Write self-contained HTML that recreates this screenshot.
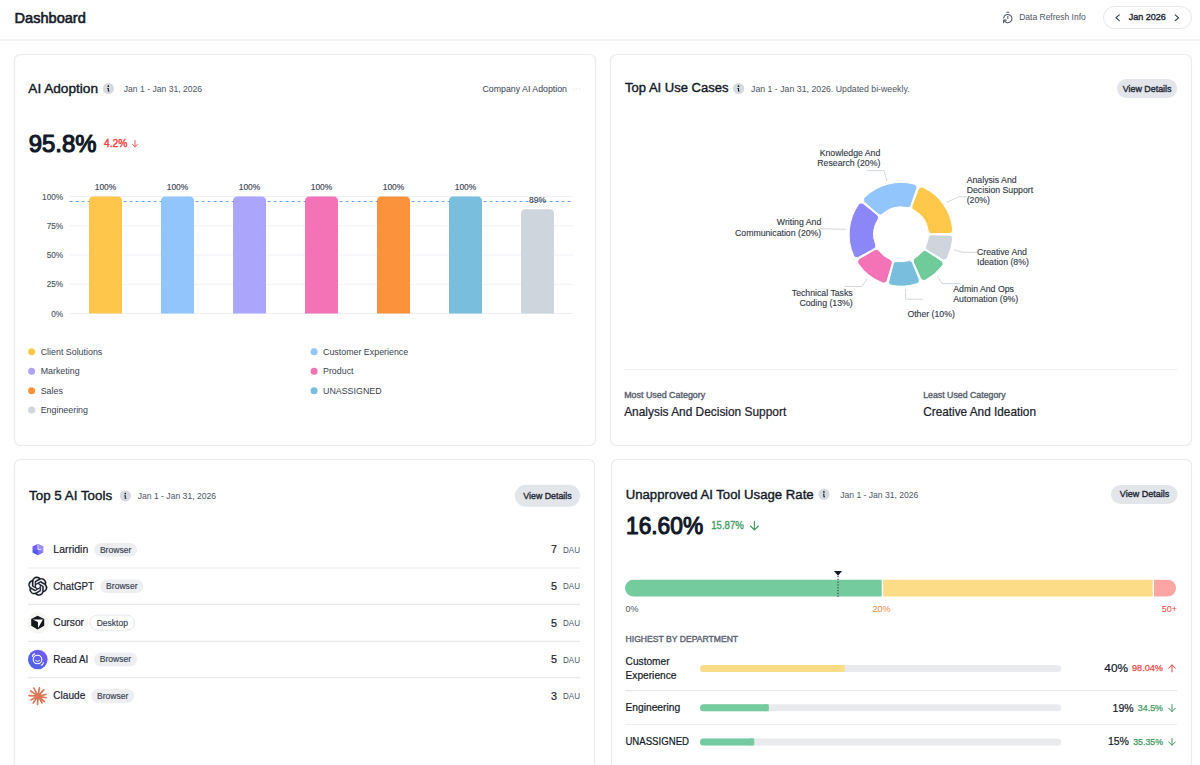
<!DOCTYPE html>
<html><head><meta charset="utf-8"><title>Dashboard</title>
<style>
html,body{margin:0;padding:0;background:#fff;width:1200px;height:765px;overflow:hidden}
svg{display:block;font-family:"Liberation Sans",sans-serif}
</style></head><body>
<svg width="1200" height="765" viewBox="0 0 1200 765">
<rect width="1200" height="765" fill="#fff"/>
<text x="14.60" y="22.50" font-size="14.83" fill="#161c28" text-anchor="start" textLength="71.20" lengthAdjust="spacingAndGlyphs" stroke="#161c28" stroke-width="0.62" stroke-linejoin="round">Dashboard</text>
<line x1="0.00" y1="40.00" x2="1200.00" y2="40.00" stroke="#edf0f3" stroke-width="1.3"/>
<g transform="translate(1001.6,11.3) scale(0.52)" fill="none" stroke="#4b5563" stroke-width="2" stroke-linecap="round" stroke-linejoin="round"><path d="M10 2h4"/><path d="M12 14v-4"/><path d="M4 13a8 8 0 0 1 8-7 8 8 0 1 1-5.3 14L4 17.6"/><path d="M9 17H4v5"/></g>
<text x="1019.20" y="20.40" font-size="9.30" fill="#4b5563" text-anchor="start" textLength="66.60" lengthAdjust="spacingAndGlyphs">Data Refresh Info</text>
<rect x="1103.50" y="6.50" width="88.00" height="22.00" rx="11" fill="#fff" stroke="#e5e7eb" stroke-width="1"/>
<path d="M1119.3 14.9 L1116 17.75 L1119.3 20.6" fill="none" stroke="#374151" stroke-width="1.1" stroke-linecap="round" stroke-linejoin="round"/>
<text x="1128.70" y="20.10" font-size="8.87" fill="#1f2937" text-anchor="start" textLength="37.20" lengthAdjust="spacingAndGlyphs" stroke="#1f2937" stroke-width="0.38" stroke-linejoin="round">Jan 2026</text>
<path d="M1175.2 14.9 L1178.5 17.75 L1175.2 20.6" fill="none" stroke="#374151" stroke-width="1.1" stroke-linecap="round" stroke-linejoin="round"/>
<rect x="14.50" y="54.50" width="581.00" height="391.00" rx="6" fill="#fff" stroke="#e8ebef" stroke-width="1.2"/>
<rect x="610.50" y="54.50" width="581.00" height="391.00" rx="6" fill="#fff" stroke="#e8ebef" stroke-width="1.2"/>
<rect x="14.50" y="459.50" width="580.00" height="340.00" rx="6" fill="#fff" stroke="#e8ebef" stroke-width="1.2"/>
<rect x="611.50" y="459.50" width="580.00" height="340.00" rx="6" fill="#fff" stroke="#e8ebef" stroke-width="1.2"/>
<text x="28.30" y="92.80" font-size="13.23" fill="#111827" text-anchor="start" textLength="69.70" lengthAdjust="spacingAndGlyphs" stroke="#111827" stroke-width="0.40" stroke-linejoin="round">AI Adoption</text>
<circle cx="108.40" cy="88.50" r="5.60" fill="#d5d9e0"/>
<g fill="#111827"><circle cx="108.30" cy="86.20" r="0.85"/><path d="M107.30 88.00 h1.5 v2.6 h0.6 v0.9 h-1.6 v-2.6 h-0.5z"/></g>
<text x="123.75" y="91.60" font-size="9.01" fill="#4b5563" text-anchor="start" textLength="78.40" lengthAdjust="spacingAndGlyphs">Jan 1 - Jan 31, 2026</text>
<text x="482.50" y="91.50" font-size="8.72" fill="#374151" text-anchor="start" textLength="84.50" lengthAdjust="spacingAndGlyphs">Company AI Adoption</text>
<line x1="573.00" y1="88.80" x2="582.00" y2="88.80" stroke="#e5e7eb" stroke-width="1" stroke-dasharray="1.5 1.5"/>
<text x="28.70" y="152.10" font-size="23.98" fill="#111827" text-anchor="start" textLength="67.70" lengthAdjust="spacingAndGlyphs" stroke="#111827" stroke-width="1.15" stroke-linejoin="round">95.8%</text>
<text x="104.00" y="147.20" font-size="10.17" fill="#ef4444" text-anchor="start" textLength="23.30" lengthAdjust="spacingAndGlyphs" stroke="#ef4444" stroke-width="0.42">4.2%</text>
<path d="M135 140.5 V146.8 M132.6 144.4 L135 146.8 L137.4 144.4" fill="none" stroke="#ef4444" stroke-width="0.9" stroke-linecap="round" stroke-linejoin="round"/>
<line x1="69.60" y1="196.50" x2="573.00" y2="196.50" stroke="#eef0f6" stroke-width="1"/>
<line x1="69.60" y1="225.75" x2="573.00" y2="225.75" stroke="#eef0f6" stroke-width="1"/>
<line x1="69.60" y1="255.00" x2="573.00" y2="255.00" stroke="#eef0f6" stroke-width="1"/>
<line x1="69.60" y1="284.25" x2="573.00" y2="284.25" stroke="#eef0f6" stroke-width="1"/>
<line x1="69.60" y1="313.50" x2="573.00" y2="313.50" stroke="#eef0f6" stroke-width="1"/>
<text x="63.20" y="199.50" font-size="8.28" fill="#4b5563" text-anchor="end" stroke="#4b5563" stroke-width="0.12">100%</text>
<text x="63.20" y="228.75" font-size="8.28" fill="#4b5563" text-anchor="end" stroke="#4b5563" stroke-width="0.12">75%</text>
<text x="63.20" y="258.00" font-size="8.28" fill="#4b5563" text-anchor="end" stroke="#4b5563" stroke-width="0.12">50%</text>
<text x="63.20" y="287.25" font-size="8.28" fill="#4b5563" text-anchor="end" stroke="#4b5563" stroke-width="0.12">25%</text>
<text x="63.20" y="316.50" font-size="8.28" fill="#4b5563" text-anchor="end" stroke="#4b5563" stroke-width="0.12">0%</text>
<line x1="69.60" y1="201.50" x2="574.00" y2="201.50" stroke="#60a5fa" stroke-width="1" stroke-dasharray="3 3"/>
<path d="M89 313.5 V201.0 Q89 196.5 93.5 196.5 H117.5 Q122 196.5 122 201.0 V313.5 Z" fill="#fec64b"/>
<text x="105.50" y="189.80" font-size="8.43" fill="#3f4754" text-anchor="middle" stroke="#3f4754" stroke-width="0.15">100%</text>
<path d="M161 313.5 V201.0 Q161 196.5 165.5 196.5 H189.5 Q194 196.5 194 201.0 V313.5 Z" fill="#93c5fd"/>
<text x="177.50" y="189.80" font-size="8.43" fill="#3f4754" text-anchor="middle" stroke="#3f4754" stroke-width="0.15">100%</text>
<path d="M233 313.5 V201.0 Q233 196.5 237.5 196.5 H261.5 Q266 196.5 266 201.0 V313.5 Z" fill="#aba6fb"/>
<text x="249.50" y="189.80" font-size="8.43" fill="#3f4754" text-anchor="middle" stroke="#3f4754" stroke-width="0.15">100%</text>
<path d="M305 313.5 V201.0 Q305 196.5 309.5 196.5 H333.5 Q338 196.5 338 201.0 V313.5 Z" fill="#f472b6"/>
<text x="321.50" y="189.80" font-size="8.43" fill="#3f4754" text-anchor="middle" stroke="#3f4754" stroke-width="0.15">100%</text>
<path d="M377 313.5 V201.0 Q377 196.5 381.5 196.5 H405.5 Q410 196.5 410 201.0 V313.5 Z" fill="#fb923c"/>
<text x="393.50" y="189.80" font-size="8.43" fill="#3f4754" text-anchor="middle" stroke="#3f4754" stroke-width="0.15">100%</text>
<path d="M449 313.5 V201.0 Q449 196.5 453.5 196.5 H477.5 Q482 196.5 482 201.0 V313.5 Z" fill="#79bedc"/>
<text x="465.50" y="189.80" font-size="8.43" fill="#3f4754" text-anchor="middle" stroke="#3f4754" stroke-width="0.15">100%</text>
<path d="M521 313.5 V213.87 Q521 209.37 525.5 209.37 H549.5 Q554 209.37 554 213.87 V313.5 Z" fill="#cfd5dd"/>
<text x="537.50" y="202.67" font-size="8.43" fill="#3f4754" text-anchor="middle" stroke="#3f4754" stroke-width="0.15">89%</text>
<circle cx="31.60" cy="351.70" r="3.50" fill="#fec64b"/>
<text x="40.70" y="354.90" font-size="8.87" fill="#374151" text-anchor="start">Client Solutions</text>
<circle cx="314.10" cy="351.70" r="3.50" fill="#93c5fd"/>
<text x="323.00" y="354.90" font-size="8.87" fill="#374151" text-anchor="start">Customer Experience</text>
<circle cx="31.60" cy="371.20" r="3.50" fill="#aba6fb"/>
<text x="40.70" y="374.40" font-size="8.87" fill="#374151" text-anchor="start">Marketing</text>
<circle cx="314.10" cy="371.20" r="3.50" fill="#f472b6"/>
<text x="323.00" y="374.40" font-size="8.87" fill="#374151" text-anchor="start">Product</text>
<circle cx="31.60" cy="390.70" r="3.50" fill="#fb923c"/>
<text x="40.70" y="393.90" font-size="8.87" fill="#374151" text-anchor="start">Sales</text>
<circle cx="314.10" cy="390.70" r="3.50" fill="#79bedc"/>
<text x="323.00" y="393.90" font-size="8.87" fill="#374151" text-anchor="start">UNASSIGNED</text>
<circle cx="31.60" cy="409.90" r="3.50" fill="#cfd5dd"/>
<text x="40.70" y="413.10" font-size="8.87" fill="#374151" text-anchor="start">Engineering</text>
<text x="625.00" y="92.40" font-size="13.08" fill="#111827" text-anchor="start" textLength="103.50" lengthAdjust="spacingAndGlyphs" stroke="#111827" stroke-width="0.39" stroke-linejoin="round">Top AI Use Cases</text>
<circle cx="738.60" cy="88.50" r="5.60" fill="#d5d9e0"/>
<g fill="#111827"><circle cx="738.50" cy="86.20" r="0.85"/><path d="M737.50 88.00 h1.5 v2.6 h0.6 v0.9 h-1.6 v-2.6 h-0.5z"/></g>
<text x="751.00" y="91.60" font-size="9.01" fill="#4b5563" text-anchor="start" textLength="158.60" lengthAdjust="spacingAndGlyphs">Jan 1 - Jan 31, 2026. Updated bi-weekly.</text>
<rect x="1117.00" y="79.00" width="60.00" height="19.00" rx="9.5" fill="#e2e5e9"/>
<text x="1122.70" y="91.80" font-size="9.30" fill="#1f2937" text-anchor="start" textLength="48.80" lengthAdjust="spacingAndGlyphs" stroke="#1f2937" stroke-width="0.38" stroke-linejoin="round">View Details</text>
<path d="M949.266,233.458 A3.5,3.5,0,0,0,952.691,229.644 A51.9,51.9,0,0,0,923.054,187.319 A3.5,3.5,0,0,0,918.300,189.233 L912.002,205.638 A3.5,3.5,0,0,0,913.654,209.997 A27.4,27.4,0,0,1,928.165,230.722 A3.5,3.5,0,0,0,931.696,233.764Z" fill="#ffc84a" stroke="#fff" stroke-width="1"/>
<path d="M916.716,188.657 A3.5,3.5,0,0,0,914.304,184.134 A51.9,51.9,0,0,0,864.524,197.380 A3.5,3.5,0,0,0,864.678,202.503 L877.900,214.077 A3.5,3.5,0,0,0,882.561,214.033 A27.4,27.4,0,0,1,906.929,207.549 A3.5,3.5,0,0,0,910.995,205.272Z" fill="#93c5fd" stroke="#fff" stroke-width="1"/>
<path d="M863.591,203.790 A3.5,3.5,0,0,0,858.514,204.492 A51.9,51.9,0,0,0,853.681,255.619 A3.5,3.5,0,0,0,858.536,257.260 L873.994,248.902 A3.5,3.5,0,0,0,875.577,244.518 A27.4,27.4,0,0,1,877.942,219.499 A3.5,3.5,0,0,0,877.208,214.896Z" fill="#8b87f9" stroke="#fff" stroke-width="1"/>
<path d="M859.364,258.728 A3.5,3.5,0,0,0,858.252,263.731 A51.9,51.9,0,0,0,882.530,282.802 A3.5,3.5,0,0,0,887.128,280.537 L892.178,263.706 A3.5,3.5,0,0,0,890.204,259.484 A27.4,27.4,0,0,1,879.090,250.753 A3.5,3.5,0,0,0,874.520,249.836Z" fill="#f472b6" stroke="#fff" stroke-width="1"/>
<path d="M888.750,280.993 A3.5,3.5,0,0,0,891.495,285.322 A51.9,51.9,0,0,0,916.911,283.701 A3.5,3.5,0,0,0,919.083,279.058 L912.501,262.766 A3.5,3.5,0,0,0,908.321,260.704 A27.4,27.4,0,0,1,897.094,261.420 A3.5,3.5,0,0,0,893.209,263.996Z" fill="#79bedc" stroke="#fff" stroke-width="1"/>
<path d="M920.635,278.400 A3.5,3.5,0,0,0,925.483,280.062 A51.9,51.9,0,0,0,942.259,265.785 A3.5,3.5,0,0,0,941.393,260.733 L926.690,251.111 A3.5,3.5,0,0,0,922.080,251.804 A27.4,27.4,0,0,1,914.908,257.908 A3.5,3.5,0,0,0,913.487,262.347Z" fill="#6fcb9a" stroke="#fff" stroke-width="1"/>
<path d="M942.291,259.307 A3.5,3.5,0,0,0,947.221,257.905 A51.9,51.9,0,0,0,952.691,238.956 A3.5,3.5,0,0,0,949.266,235.142 L931.696,234.836 A3.5,3.5,0,0,0,928.165,237.878 A27.4,27.4,0,0,1,925.894,245.748 A3.5,3.5,0,0,0,927.261,250.204Z" fill="#cfd5dd" stroke="#fff" stroke-width="1"/>
<path d="M867.20 170.60 L884.00 170.60 L886.90 180.80" fill="none" stroke="#cdd2da" stroke-width="0.9"/>
<path d="M946.70 202.30 L958.80 196.80 L966.70 196.80" fill="none" stroke="#cdd2da" stroke-width="0.9"/>
<path d="M819.80 228.70 L846.00 229.30" fill="none" stroke="#cdd2da" stroke-width="0.9"/>
<path d="M953.90 249.70 L962.70 252.30 L977.00 252.30" fill="none" stroke="#cdd2da" stroke-width="0.9"/>
<path d="M937.30 276.40 L942.20 283.60 L960.80 283.60" fill="none" stroke="#cdd2da" stroke-width="0.9"/>
<path d="M867.30 278.70 L861.70 286.50 L844.50 286.50" fill="none" stroke="#cdd2da" stroke-width="0.9"/>
<path d="M905.60 289.20 L905.60 299.20 L923.20 299.20" fill="none" stroke="#cdd2da" stroke-width="0.9"/>
<text x="880.30" y="155.75" font-size="8.72" fill="#2f3744" text-anchor="end" stroke="#2f3744" stroke-width="0.12">Knowledge And</text>
<text x="880.30" y="165.50" font-size="8.72" fill="#2f3744" text-anchor="end" stroke="#2f3744" stroke-width="0.12">Research (20%)</text>
<text x="966.70" y="182.60" font-size="8.72" fill="#2f3744" text-anchor="start" stroke="#2f3744" stroke-width="0.12">Analysis And</text>
<text x="966.70" y="192.80" font-size="8.72" fill="#2f3744" text-anchor="start" stroke="#2f3744" stroke-width="0.12">Decision Support</text>
<text x="966.70" y="202.60" font-size="8.72" fill="#2f3744" text-anchor="start" stroke="#2f3744" stroke-width="0.12">(20%)</text>
<text x="821.25" y="225.30" font-size="8.72" fill="#2f3744" text-anchor="end" stroke="#2f3744" stroke-width="0.12">Writing And</text>
<text x="821.25" y="235.50" font-size="8.72" fill="#2f3744" text-anchor="end" stroke="#2f3744" stroke-width="0.12">Communication (20%)</text>
<text x="977.00" y="254.80" font-size="8.72" fill="#2f3744" text-anchor="start" stroke="#2f3744" stroke-width="0.12">Creative And</text>
<text x="977.00" y="265.00" font-size="8.72" fill="#2f3744" text-anchor="start" stroke="#2f3744" stroke-width="0.12">Ideation (8%)</text>
<text x="953.30" y="292.00" font-size="8.72" fill="#2f3744" text-anchor="start" stroke="#2f3744" stroke-width="0.12">Admin And Ops</text>
<text x="953.30" y="301.90" font-size="8.72" fill="#2f3744" text-anchor="start" stroke="#2f3744" stroke-width="0.12">Automation (9%)</text>
<text x="852.70" y="295.80" font-size="8.72" fill="#2f3744" text-anchor="end" stroke="#2f3744" stroke-width="0.12">Technical Tasks</text>
<text x="852.70" y="306.00" font-size="8.72" fill="#2f3744" text-anchor="end" stroke="#2f3744" stroke-width="0.12">Coding (13%)</text>
<text x="907.40" y="316.50" font-size="8.72" fill="#2f3744" text-anchor="start" stroke="#2f3744" stroke-width="0.12">Other (10%)</text>
<line x1="624.00" y1="369.50" x2="1177.00" y2="369.50" stroke="#eceef1" stroke-width="1"/>
<text x="624.20" y="398.00" font-size="8.72" fill="#596170" text-anchor="start" textLength="81.00" lengthAdjust="spacingAndGlyphs" stroke="#596170" stroke-width="0.38" stroke-linejoin="round">Most Used Category</text>
<text x="624.20" y="415.50" font-size="11.99" fill="#1a202c" text-anchor="start" textLength="162.00" lengthAdjust="spacingAndGlyphs" stroke="#1a202c" stroke-width="0.22">Analysis And Decision Support</text>
<text x="923.20" y="398.00" font-size="8.72" fill="#596170" text-anchor="start" textLength="82.40" lengthAdjust="spacingAndGlyphs" stroke="#596170" stroke-width="0.38" stroke-linejoin="round">Least Used Category</text>
<text x="923.20" y="415.50" font-size="11.99" fill="#1a202c" text-anchor="start" textLength="112.80" lengthAdjust="spacingAndGlyphs" stroke="#1a202c" stroke-width="0.22">Creative And Ideation</text>
<text x="29.10" y="499.60" font-size="12.79" fill="#111827" text-anchor="start" textLength="83.00" lengthAdjust="spacingAndGlyphs" stroke="#111827" stroke-width="0.38" stroke-linejoin="round">Top 5 AI Tools</text>
<circle cx="125.40" cy="495.80" r="5.60" fill="#d5d9e0"/>
<g fill="#111827"><circle cx="125.30" cy="493.50" r="0.85"/><path d="M124.30 495.30 h1.5 v2.6 h0.6 v0.9 h-1.6 v-2.6 h-0.5z"/></g>
<text x="137.70" y="498.60" font-size="9.01" fill="#4b5563" text-anchor="start" textLength="78.40" lengthAdjust="spacingAndGlyphs">Jan 1 - Jan 31, 2026</text>
<rect x="515.00" y="484.80" width="65.00" height="22.00" rx="11.0" fill="#e2e5e9"/>
<text x="523.30" y="498.75" font-size="9.30" fill="#1f2937" text-anchor="start" textLength="48.40" lengthAdjust="spacingAndGlyphs" stroke="#1f2937" stroke-width="0.38" stroke-linejoin="round">View Details</text>
<text x="53.30" y="553.10" font-size="10.47" fill="#1a202c" text-anchor="start" textLength="35.00" lengthAdjust="spacingAndGlyphs" stroke="#1a202c" stroke-width="0.18">Larridin</text>
<rect x="94.10" y="542.90" width="43.00" height="13.70" rx="6.85" fill="#eceef1"/>
<text x="115.60" y="552.50" font-size="8.43" fill="#374151" text-anchor="middle" textLength="31.40" lengthAdjust="spacingAndGlyphs" stroke="#374151" stroke-width="0.15">Browser</text>
<text x="557.00" y="553.40" font-size="11.63" fill="#1a202c" text-anchor="end" textLength="6.00" lengthAdjust="spacingAndGlyphs" stroke="#1a202c" stroke-width="0.2">7</text>
<text x="580.00" y="552.80" font-size="8.43" fill="#4b5563" text-anchor="end" textLength="17.00" lengthAdjust="spacingAndGlyphs">DAU</text>
<text x="53.30" y="589.60" font-size="10.47" fill="#1a202c" text-anchor="start" textLength="40.80" lengthAdjust="spacingAndGlyphs" stroke="#1a202c" stroke-width="0.18">ChatGPT</text>
<rect x="100.30" y="579.40" width="43.00" height="13.70" rx="6.85" fill="#eceef1"/>
<text x="121.80" y="589.00" font-size="8.43" fill="#374151" text-anchor="middle" textLength="31.40" lengthAdjust="spacingAndGlyphs" stroke="#374151" stroke-width="0.15">Browser</text>
<text x="557.00" y="589.90" font-size="11.63" fill="#1a202c" text-anchor="end" textLength="6.00" lengthAdjust="spacingAndGlyphs" stroke="#1a202c" stroke-width="0.2">5</text>
<text x="580.00" y="589.30" font-size="8.43" fill="#4b5563" text-anchor="end" textLength="17.00" lengthAdjust="spacingAndGlyphs">DAU</text>
<text x="53.30" y="626.20" font-size="10.47" fill="#1a202c" text-anchor="start" textLength="30.70" lengthAdjust="spacingAndGlyphs" stroke="#1a202c" stroke-width="0.18">Cursor</text>
<rect x="90.00" y="615.20" width="44.60" height="15.00" rx="7.5" fill="#fff" stroke="#e5e7eb" stroke-width="1"/>
<text x="112.30" y="625.60" font-size="8.43" fill="#374151" text-anchor="middle" textLength="31.20" lengthAdjust="spacingAndGlyphs" stroke="#374151" stroke-width="0.15">Desktop</text>
<text x="557.00" y="626.50" font-size="11.63" fill="#1a202c" text-anchor="end" textLength="6.00" lengthAdjust="spacingAndGlyphs" stroke="#1a202c" stroke-width="0.2">5</text>
<text x="580.00" y="625.90" font-size="8.43" fill="#4b5563" text-anchor="end" textLength="17.00" lengthAdjust="spacingAndGlyphs">DAU</text>
<text x="53.30" y="662.80" font-size="10.47" fill="#1a202c" text-anchor="start" textLength="35.00" lengthAdjust="spacingAndGlyphs" stroke="#1a202c" stroke-width="0.18">Read AI</text>
<rect x="94.00" y="652.60" width="43.00" height="13.70" rx="6.85" fill="#eceef1"/>
<text x="115.50" y="662.20" font-size="8.43" fill="#374151" text-anchor="middle" textLength="31.40" lengthAdjust="spacingAndGlyphs" stroke="#374151" stroke-width="0.15">Browser</text>
<text x="557.00" y="663.10" font-size="11.63" fill="#1a202c" text-anchor="end" textLength="6.00" lengthAdjust="spacingAndGlyphs" stroke="#1a202c" stroke-width="0.2">5</text>
<text x="580.00" y="662.50" font-size="8.43" fill="#4b5563" text-anchor="end" textLength="17.00" lengthAdjust="spacingAndGlyphs">DAU</text>
<text x="53.30" y="699.20" font-size="10.47" fill="#1a202c" text-anchor="start" textLength="32.10" lengthAdjust="spacingAndGlyphs" stroke="#1a202c" stroke-width="0.18">Claude</text>
<rect x="91.20" y="689.00" width="43.00" height="13.70" rx="6.85" fill="#eceef1"/>
<text x="112.70" y="698.60" font-size="8.43" fill="#374151" text-anchor="middle" textLength="31.40" lengthAdjust="spacingAndGlyphs" stroke="#374151" stroke-width="0.15">Browser</text>
<text x="557.00" y="699.50" font-size="11.63" fill="#1a202c" text-anchor="end" textLength="6.00" lengthAdjust="spacingAndGlyphs" stroke="#1a202c" stroke-width="0.2">3</text>
<text x="580.00" y="698.90" font-size="8.43" fill="#4b5563" text-anchor="end" textLength="17.00" lengthAdjust="spacingAndGlyphs">DAU</text>
<line x1="28.00" y1="568.00" x2="580.00" y2="568.00" stroke="#e7e9ed" stroke-width="1.2"/>
<line x1="28.00" y1="604.30" x2="580.00" y2="604.30" stroke="#e7e9ed" stroke-width="1.2"/>
<line x1="28.00" y1="641.40" x2="580.00" y2="641.40" stroke="#e7e9ed" stroke-width="1.2"/>
<line x1="28.00" y1="677.60" x2="580.00" y2="677.60" stroke="#e7e9ed" stroke-width="1.2"/>
<text x="625.70" y="498.60" font-size="13.66" fill="#111827" text-anchor="start" textLength="188.00" lengthAdjust="spacingAndGlyphs" stroke="#111827" stroke-width="0.41" stroke-linejoin="round">Unapproved AI Tool Usage Rate</text>
<circle cx="824.00" cy="494.20" r="5.60" fill="#d5d9e0"/>
<g fill="#111827"><circle cx="823.90" cy="491.90" r="0.85"/><path d="M822.90 493.70 h1.5 v2.6 h0.6 v0.9 h-1.6 v-2.6 h-0.5z"/></g>
<text x="840.20" y="497.60" font-size="9.01" fill="#4b5563" text-anchor="start" textLength="78.20" lengthAdjust="spacingAndGlyphs">Jan 1 - Jan 31, 2026</text>
<rect x="1111.00" y="485.00" width="66.50" height="19.00" rx="9.5" fill="#e2e5e9"/>
<text x="1119.80" y="497.00" font-size="9.30" fill="#1f2937" text-anchor="start" textLength="49.40" lengthAdjust="spacingAndGlyphs" stroke="#1f2937" stroke-width="0.38" stroke-linejoin="round">View Details</text>
<text x="626.00" y="533.80" font-size="23.69" fill="#111827" text-anchor="start" textLength="77.10" lengthAdjust="spacingAndGlyphs" stroke="#111827" stroke-width="1.1" stroke-linejoin="round">16.60%</text>
<text x="711.25" y="529.25" font-size="10.03" fill="#3d9a5f" text-anchor="start" textLength="32.50" lengthAdjust="spacingAndGlyphs" stroke="#3d9a5f" stroke-width="0.3">15.87%</text>
<path d="M754.4 521.3 V530 M750.4 526 L754.4 530 L758.4 526" fill="none" stroke="#3d9a5f" stroke-width="1.1" stroke-linecap="round" stroke-linejoin="round"/>
<path d="M633.4 579.7 H881.7 V596.5 H633.4 A8.4 8.4 0 0 1 633.4 579.7 Z" fill="#74cb9d"/>
<rect x="883.20" y="579.70" width="269.50" height="16.80" rx="0" fill="#fddc87"/>
<path d="M1154 579.7 H1167.7 A8.4 8.4 0 0 1 1167.7 596.5 H1154 Z" fill="#fca5a5"/>
<path d="M834 571.1 L842 571.1 L838 575.8 Z" fill="#111827"/>
<line x1="838.00" y1="576.00" x2="838.00" y2="597.00" stroke="#1f2937" stroke-width="1" stroke-dasharray="1.2 1.6"/>
<text x="625.60" y="611.80" font-size="9.01" fill="#4b5563" text-anchor="start">0%</text>
<text x="881.40" y="611.80" font-size="9.01" fill="#f0893a" text-anchor="middle">20%</text>
<text x="1177.00" y="611.80" font-size="9.01" fill="#ef4444" text-anchor="end">50+</text>
<text x="625.60" y="641.90" font-size="8.58" fill="#5b6472" text-anchor="start" textLength="112.50" lengthAdjust="spacingAndGlyphs" stroke="#5b6472" stroke-width="0.38" stroke-linejoin="round">HIGHEST BY DEPARTMENT</text>
<text x="625.60" y="664.75" font-size="10.17" fill="#111827" text-anchor="start" stroke="#111827" stroke-width="0.2">Customer</text>
<text x="625.60" y="678.50" font-size="10.17" fill="#111827" text-anchor="start" stroke="#111827" stroke-width="0.2">Experience</text>
<text x="625.40" y="710.80" font-size="10.17" fill="#111827" text-anchor="start" textLength="54.80" lengthAdjust="spacingAndGlyphs" stroke="#111827" stroke-width="0.2">Engineering</text>
<text x="625.40" y="745.20" font-size="10.17" fill="#111827" text-anchor="start" textLength="63.60" lengthAdjust="spacingAndGlyphs" stroke="#111827" stroke-width="0.2">UNASSIGNED</text>
<rect x="700.00" y="665.10" width="361.30" height="7.00" rx="3.5" fill="#e8eaee"/>
<rect x="700.00" y="665.10" width="144.52" height="7.00" rx="3.5" fill="#fddc87"/>
<rect x="840.52" y="665.10" width="4.00" height="7.00" rx="0" fill="#fddc87"/>
<rect x="700.00" y="704.20" width="361.30" height="7.00" rx="3.5" fill="#e8eaee"/>
<rect x="700.00" y="704.20" width="68.65" height="7.00" rx="3.5" fill="#74cb9d"/>
<rect x="764.65" y="704.20" width="4.00" height="7.00" rx="0" fill="#74cb9d"/>
<rect x="700.00" y="738.40" width="361.30" height="7.00" rx="3.5" fill="#e8eaee"/>
<rect x="700.00" y="738.40" width="54.20" height="7.00" rx="3.5" fill="#74cb9d"/>
<rect x="750.20" y="738.40" width="4.00" height="7.00" rx="0" fill="#74cb9d"/>
<line x1="625.00" y1="690.70" x2="1177.00" y2="690.70" stroke="#e5e7eb" stroke-width="1.2"/>
<line x1="625.00" y1="724.40" x2="1177.00" y2="724.40" stroke="#eceef1" stroke-width="1"/>
<text x="1104.30" y="671.90" font-size="11.34" fill="#111827" text-anchor="start" textLength="23.70" lengthAdjust="spacingAndGlyphs" stroke="#111827" stroke-width="0.2">40%</text>
<text x="1132.00" y="671.40" font-size="9.16" fill="#ef4444" text-anchor="start" textLength="31.00" lengthAdjust="spacingAndGlyphs" stroke="#ef4444" stroke-width="0.25">98.04%</text>
<path d="M1172 664.9 V671.9 M1168.6 668.3 L1172 664.9 L1175.4 668.3" fill="none" stroke="#ef4444" stroke-width="1" stroke-linecap="round" stroke-linejoin="round"/>
<text x="1112.60" y="711.50" font-size="11.34" fill="#111827" text-anchor="start" textLength="21.10" lengthAdjust="spacingAndGlyphs" stroke="#111827" stroke-width="0.2">19%</text>
<text x="1137.80" y="711.00" font-size="9.16" fill="#3d9a5f" text-anchor="start" textLength="25.20" lengthAdjust="spacingAndGlyphs" stroke="#3d9a5f" stroke-width="0.25">34.5%</text>
<path d="M1172 704.5 V711.5 M1168.6 708.1 L1172 711.5 L1175.4 708.1" fill="none" stroke="#3d9a5f" stroke-width="1" stroke-linecap="round" stroke-linejoin="round"/>
<text x="1107.90" y="745.20" font-size="11.34" fill="#111827" text-anchor="start" textLength="21.10" lengthAdjust="spacingAndGlyphs" stroke="#111827" stroke-width="0.2">15%</text>
<text x="1133.20" y="744.70" font-size="9.16" fill="#3d9a5f" text-anchor="start" textLength="29.80" lengthAdjust="spacingAndGlyphs" stroke="#3d9a5f" stroke-width="0.25">35.35%</text>
<path d="M1172 738.2 V745.2 M1168.6 741.8000000000001 L1172 745.2 L1175.4 741.8000000000001" fill="none" stroke="#3d9a5f" stroke-width="1" stroke-linecap="round" stroke-linejoin="round"/>
<defs><linearGradient id="lg1" x1="0" y1="0" x2="1" y2="1"><stop offset="0" stop-color="#8b7cf7"/><stop offset="1" stop-color="#5563ee"/></linearGradient><linearGradient id="lg2" x1="1" y1="0" x2="0" y2="1"><stop offset="0" stop-color="#7c5cf6"/><stop offset="1" stop-color="#4a62ea"/></linearGradient></defs>
<path d="M38 543.9 L43.2 546.6 L43.2 552.5 L38 555.2 L32.7 552.5 L32.7 546.6 Z" fill="#7f74f6"/>
<path d="M38 543.9 L43.2 546.6 L43.2 552.5 L38 549.4 Z" fill="#958cf8"/>
<path d="M32.7 549.4 L38 549.4 L38 555.2 L32.7 552.5 Z" fill="#4d5cee"/>
<path d="M32.7 546.6 L38 543.9 L38 549.4 L32.7 549.4 Z" fill="#7460f5"/>
<path d="M37.9 544.2 V549.4 H41.4" fill="none" stroke="#fff" stroke-width="0.8" opacity="0.9"/>
<g transform="translate(28.35 576.7) scale(0.79)"><path fill="#111827" stroke="#111827" stroke-width="0.45" d="M22.2819 9.8211a5.9847 5.9847 0 0 0-.5157-4.9108 6.0462 6.0462 0 0 0-6.5098-2.9A6.0651 6.0651 0 0 0 4.9807 4.1818a5.9847 5.9847 0 0 0-3.9977 2.9 6.0462 6.0462 0 0 0 .7427 7.0966 5.98 5.98 0 0 0 .511 4.9107 6.051 6.051 0 0 0 6.5146 2.9001A5.9847 5.9847 0 0 0 13.2599 24a6.0557 6.0557 0 0 0 5.7718-4.2058 5.9894 5.9894 0 0 0 3.9977-2.9001 6.0557 6.0557 0 0 0-.7475-7.0729zm-9.022 12.6081a4.4755 4.4755 0 0 1-2.8764-1.0408l.1419-.0804 4.7783-2.7582a.7948.7948 0 0 0 .3927-.6813v-6.7369l2.02 1.1686a.071.071 0 0 1 .038.052v5.5826a4.504 4.504 0 0 1-4.4945 4.4944zm-9.6607-4.1254a4.4708 4.4708 0 0 1-.5346-3.0137l.142.0852 4.783 2.7582a.7712.7712 0 0 0 .7806 0l5.8428-3.3685v2.3324a.0804.0804 0 0 1-.0332.0615L9.74 19.9502a4.4992 4.4992 0 0 1-6.1408-1.6464zM2.3408 7.8956a4.485 4.485 0 0 1 2.3655-1.9728V11.6a.7664.7664 0 0 0 .3879.6765l5.8144 3.3543-2.0201 1.1685a.0757.0757 0 0 1-.071 0l-4.8303-2.7865A4.504 4.504 0 0 1 2.3408 7.872zm16.5963 3.8558L13.1038 8.364 15.1192 7.2a.0757.0757 0 0 1 .071 0l4.8303 2.7913a4.4944 4.4944 0 0 1-.6765 8.1042v-5.6772a.79.79 0 0 0-.407-.667zm2.0107-3.0231l-.142-.0852-4.7735-2.7818a.7759.7759 0 0 0-.7854 0L9.409 9.2297V6.8974a.0662.0662 0 0 1 .0284-.0615l4.8303-2.7866a4.4992 4.4992 0 0 1 6.6802 4.66zM8.3065 12.863l-2.02-1.1638a.0804.0804 0 0 1-.038-.0567V6.0742a4.4992 4.4992 0 0 1 7.3757-3.4537l-.142.0805L8.704 5.459a.7948.7948 0 0 0-.3927.6813zm1.0976-2.3654l2.602-1.4998 2.6069 1.4998v2.9994l-2.5974 1.4997-2.6067-1.4997Z"/></g>
<circle cx="38.10" cy="622.90" r="10.00" fill="#f6f6f3" stroke="#eeeeea" stroke-width="0.6"/>
<path d="M37.6 615.7 L44.2 618.9 L44.2 625.7 L37.6 629.6 L31.2 625.7 L31.2 618.9 Z" fill="#14171c"/>
<path d="M32.9 619.5 L42.9 619.5 L38.1 628 L37.9 621.9 Z" fill="#fff"/>
<defs><linearGradient id="rg" x1="1" y1="0" x2="0" y2="1"><stop offset="0" stop-color="#7a58f8"/><stop offset="1" stop-color="#4466e8"/></linearGradient></defs>
<circle cx="37.80" cy="659.50" r="9.80" fill="url(#rg)"/>
<circle cx="37.50" cy="659.50" r="4.30" fill="none" stroke="#fff" stroke-width="1.1"/>
<path d="M35.6 660.6 Q37.5 662.6 39.4 660.6" fill="none" stroke="#fff" stroke-width="1" stroke-linecap="round"/>
<path d="M32.4 656.4 Q32.8 654.4 34.6 653.9" fill="none" stroke="#fff" stroke-width="1.1" stroke-linecap="round"/>
<path d="M43.4 662.5 Q43.1 664.6 41.2 665.2" fill="none" stroke="#fff" stroke-width="1.1" stroke-linecap="round"/>
<path d="M38.10 696.10 L33.87 688.07 M38.10 696.10 L39.41 687.79 M38.10 696.10 L43.79 689.82 M38.10 696.10 L45.98 694.49 M38.10 696.10 L46.13 697.71 M38.10 696.10 L44.38 701.49 M38.10 696.10 L42.04 702.95 M38.10 696.10 L37.51 704.41 M38.10 696.10 L33.14 702.95 M38.10 696.10 L30.95 700.04 M38.10 696.10 L29.05 695.66 M38.10 696.10 L30.66 690.99" fill="none" stroke="#d97757" stroke-width="1.7" stroke-linecap="round"/>
<circle cx="38.10" cy="696.10" r="2.60" fill="#d97757"/>
</svg>
</body></html>
